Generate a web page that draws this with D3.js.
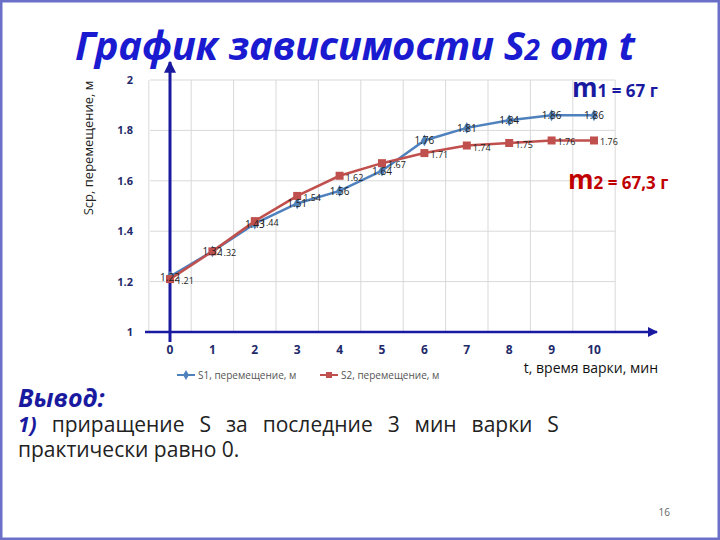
<!DOCTYPE html>
<html><head><meta charset="utf-8">
<script src="https://cdn.jsdelivr.net/npm/d3@7"></script>
<style>body{margin:0;background:#fff}svg{font-family:"Open Sans","DejaVu Sans",sans-serif}</style>
</head><body><svg id="c" width="720" height="540"></svg>
<script>
var times = [0, 1, 2, 3, 4, 5, 6, 7, 8, 9, 10];
var s1 = [1.22, 1.32, 1.43, 1.51, 1.56, 1.64, 1.76, 1.81, 1.84, 1.86, 1.86];
var s2 = [1.21, 1.32, 1.44, 1.54, 1.62, 1.67, 1.71, 1.74, 1.75, 1.76, 1.76];
var yTicks = [1, 1.2, 1.4, 1.6, 1.8, 2];

var svg = d3.select("#c");
var x = d3.scaleLinear().domain([0, 10]).range([170, 594]);
var y = d3.scaleLinear().domain([1, 2]).range([332, 80]);

// slide frame
svg.append("rect").attr("x", 1).attr("y", 1).attr("width", 718).attr("height", 538)
  .attr("fill", "none").attr("stroke", "#6b6fc8").attr("stroke-width", 3);

// grid
var gridX = d3.range(-0.5, 11, 1);
svg.append("g").selectAll("line").data(gridX).enter().append("line")
  .attr("x1", function (d) { return x(d); }).attr("x2", function (d) { return x(d); })
  .attr("y1", y(2)).attr("y2", y(1)).attr("stroke", "#d9d9d9");
svg.append("g").selectAll("line").data(yTicks.slice(1)).enter().append("line")
  .attr("x1", 150).attr("x2", x(10.5))
  .attr("y1", function (d) { return y(d); }).attr("y2", function (d) { return y(d); })
  .attr("stroke", "#d9d9d9");

// y tick labels
svg.append("g").selectAll("text").data(yTicks).enter().append("text")
  .attr("x", 133).attr("y", function (d) { return y(d) + 4; })
  .attr("text-anchor", "end").attr("font-size", 11).attr("font-weight", "bold")
  .attr("fill", "#1f2a6b").text(function (d) { return d; });
// x tick labels
svg.append("g").selectAll("text").data(times).enter().append("text")
  .attr("x", function (d) { return x(d); }).attr("y", 354)
  .attr("text-anchor", "middle").attr("font-size", 12).attr("font-weight", "bold")
  .attr("fill", "#1f2a6b").text(function (d) { return d; });

// axes with arrows
var defs = svg.append("defs");
defs.append("marker").attr("id", "arr").attr("viewBox", "0 0 10 10").attr("refX", 9).attr("refY", 5)
  .attr("markerWidth", 4).attr("markerHeight", 4).attr("orient", "auto")
  .append("path").attr("d", "M0,0L10,5L0,10z").attr("fill", "#1a1aa0");
svg.append("line").attr("x1", 145).attr("x2", 657).attr("y1", y(1)).attr("y2", y(1))
  .attr("stroke", "#1a1aa0").attr("stroke-width", 2.5).attr("marker-end", "url(#arr)");
svg.append("line").attr("x1", x(0)).attr("x2", x(0)).attr("y1", 342).attr("y2", 62)
  .attr("stroke", "#1a1aa0").attr("stroke-width", 3).attr("marker-end", "url(#arr)");

// series
var line = d3.line().x(function (d, i) { return x(times[i]); }).y(function (d) { return y(d); });
var c1 = "#4f81bd", c2 = "#c0504d";
svg.append("path").datum(s1).attr("d", line).attr("fill", "none").attr("stroke", c1).attr("stroke-width", 2.5);
svg.append("path").datum(s2).attr("d", line).attr("fill", "none").attr("stroke", c2).attr("stroke-width", 2.5);
svg.append("g").selectAll("path").data(s1).enter().append("path")
  .attr("d", d3.symbol().type(d3.symbolDiamond).size(40))
  .attr("transform", function (d, i) { return "translate(" + x(times[i]) + "," + y(d) + ")"; })
  .attr("fill", c1);
svg.append("g").selectAll("rect").data(s2).enter().append("rect")
  .attr("x", function (d, i) { return x(times[i]) - 4; }).attr("y", function (d) { return y(d) - 4; })
  .attr("width", 8).attr("height", 8).attr("fill", c2);

// data labels
svg.append("g").selectAll("text").data(s1).enter().append("text")
  .attr("x", function (d, i) { return x(times[i]); }).attr("y", function (d) { return y(d) + 4; })
  .attr("text-anchor", "middle").attr("font-size", 10).attr("fill", "#222").text(function (d) { return d; });
svg.append("g").selectAll("text").data(s2).enter().append("text")
  .attr("x", function (d, i) { return x(times[i]) + 6; }).attr("y", function (d) { return y(d) + 5; })
  .attr("font-size", 9).attr("fill", "#222").text(function (d) { return d; });

// title
svg.append("text").attr("x", 75).attr("y", 60).attr("font-size", 40).attr("font-weight", "bold")
  .attr("font-style", "italic").attr("fill", "#1a1ad0").attr("textLength", 560)
  .html('График зависимости S<tspan font-size="28">2</tspan> от t');

// axis titles
svg.append("text").attr("transform", "translate(93,148) rotate(-90)").attr("text-anchor", "middle")
  .attr("font-size", 13).attr("fill", "#222").text("Sср, перемещение, м");
svg.append("text").attr("x", 658).attr("y", 373).attr("text-anchor", "end")
  .attr("font-size", 14).attr("fill", "#111").text("t, время варки, мин");

// mass annotations
svg.append("text").attr("x", 572).attr("y", 97).attr("font-size", 17).attr("font-weight", "bold").attr("fill", "#1a1aa0")
  .html('<tspan font-size="26">m</tspan>1 = 67 г');
svg.append("text").attr("x", 568).attr("y", 189).attr("font-size", 17).attr("font-weight", "bold").attr("fill", "#c00000")
  .html('<tspan font-size="26">m</tspan>2 = 67,3 г');

// legend
var leg = [{ n: "S1, перемещение, м", c: c1, x: 177 }, { n: "S2, перемещение, м", c: c2, x: 320 }];
leg.forEach(function (l, i) {
  svg.append("line").attr("x1", l.x).attr("x2", l.x + 18).attr("y1", 375).attr("y2", 375).attr("stroke", l.c).attr("stroke-width", 2);
  if (i === 0) svg.append("path").attr("d", d3.symbol().type(d3.symbolDiamond).size(30)).attr("transform", "translate(" + (l.x + 9) + ",375)").attr("fill", l.c);
  else svg.append("rect").attr("x", l.x + 6).attr("y", 372).attr("width", 6).attr("height", 6).attr("fill", l.c);
  svg.append("text").attr("x", l.x + 21).attr("y", 379).attr("font-size", 10).attr("fill", "#555").text(l.n);
});

// conclusion
svg.append("text").attr("x", 18).attr("y", 407).attr("font-size", 25).attr("font-weight", "bold")
  .attr("font-style", "italic").attr("fill", "#1a1aa0").text("Вывод:");
svg.append("text").attr("x", 18).attr("y", 432).attr("font-size", 21).attr("fill", "#222")
  .attr("word-spacing", 9.5)
  .html('<tspan fill="#1a1aa0" font-style="italic" font-weight="bold">1)</tspan> приращение S за последние 3 мин варки S');
svg.append("text").attr("x", 18).attr("y", 457).attr("font-size", 21).attr("fill", "#222").text("практически равно 0.");
svg.append("text").attr("x", 670).attr("y", 516).attr("text-anchor", "end").attr("font-size", 10).attr("fill", "#666").text("16");
</script></body></html>
